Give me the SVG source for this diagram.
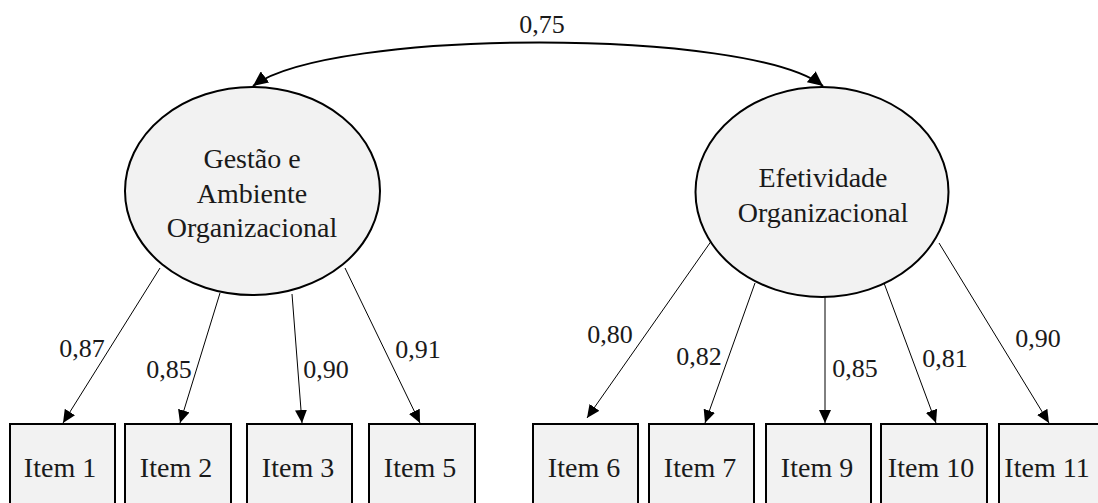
<svg xmlns="http://www.w3.org/2000/svg" width="1098" height="503" viewBox="0 0 1098 503">
<style>
.lat{fill:#f2f2f2;stroke:#000;stroke-width:2}
.box{fill:#f2f2f2;stroke:#000;stroke-width:2}
.t{font-family:'Liberation Serif','Times New Roman','DejaVu Serif',serif;font-size:28px;fill:#1a1a1a;text-anchor:middle}
.l{font-family:'Liberation Serif','Times New Roman','DejaVu Serif',serif;font-size:26px;fill:#1a1a1a;text-anchor:middle}
.c{stroke:#000;stroke-width:1;fill:none;marker-end:url(#ah)}
</style>
<defs>
<marker id="ah" markerUnits="userSpaceOnUse" markerWidth="14" markerHeight="12" refX="13" refY="6" orient="auto">
<path d="M0,0 L13,6 L0,12 Z" fill="#000"/>
</marker>
<marker id="ah2" markerUnits="userSpaceOnUse" markerWidth="16" markerHeight="14" refX="15" refY="7" orient="auto">
<path d="M0,0 L15,7 L0,14 Z" fill="#000"/>
</marker>
<marker id="ah2s" markerUnits="userSpaceOnUse" markerWidth="16" markerHeight="14" refX="15" refY="7" orient="auto-start-reverse">
<path d="M0,0 L15,7 L0,14 Z" fill="#000"/>
</marker>
</defs>
<g id="connectors">
<path d="M253,86 C330,28 750,28 823,86" fill="none" stroke="#000" stroke-width="2" marker-start="url(#ah2s)" marker-end="url(#ah2)"/>
<line class="c" x1="160" y1="268" x2="63" y2="423"/>
<line class="c" x1="220" y1="293" x2="180" y2="423"/>
<line class="c" x1="292" y1="294" x2="302" y2="423"/>
<line class="c" x1="345" y1="268" x2="420" y2="423"/>
<line class="c" x1="712" y1="240" x2="587" y2="418"/>
<line class="c" x1="755" y1="283" x2="705" y2="423"/>
<line class="c" x1="825" y1="297" x2="825" y2="423"/>
<line class="c" x1="884" y1="283" x2="936" y2="423"/>
<line class="c" x1="939" y1="243" x2="1049" y2="423"/>
<text class="l" x="542" y="33">0,75</text>
<text class="l" x="82" y="357">0,87</text>
<text class="l" x="169" y="378">0,85</text>
<text class="l" x="326" y="378">0,90</text>
<text class="l" x="418" y="358">0,91</text>
<text class="l" x="610" y="343">0,80</text>
<text class="l" x="699" y="365">0,82</text>
<text class="l" x="855" y="377">0,85</text>
<text class="l" x="945" y="367">0,81</text>
<text class="l" x="1038" y="347">0,90</text>
</g>
<g id="gestao">
<ellipse class="lat" cx="252.5" cy="191" rx="127.5" ry="104"/>
<text class="t" x="252" y="168">Gestão e</text>
<text class="t" x="252" y="203">Ambiente</text>
<text class="t" x="252" y="237">Organizacional</text>
</g>
<g id="efetividade">
<ellipse class="lat" cx="822" cy="192" rx="126.5" ry="105"/>
<text class="t" x="823" y="187">Efetividade</text>
<text class="t" x="823" y="222">Organizacional</text>
</g>
<g id="item1"><rect class="box" x="10" y="424" width="105" height="90"/><text class="t" x="60" y="477">Item 1</text></g>
<g id="item2"><rect class="box" x="125" y="424" width="106" height="90"/><text class="t" x="176" y="477">Item 2</text></g>
<g id="item3"><rect class="box" x="247" y="424" width="105" height="90"/><text class="t" x="298" y="477">Item 3</text></g>
<g id="item5"><rect class="box" x="369" y="424" width="106" height="90"/><text class="t" x="420" y="477">Item 5</text></g>
<g id="item6"><rect class="box" x="533" y="424" width="105" height="90"/><text class="t" x="584" y="477">Item 6</text></g>
<g id="item7"><rect class="box" x="649" y="424" width="105" height="90"/><text class="t" x="700" y="477">Item 7</text></g>
<g id="item9"><rect class="box" x="766" y="424" width="105" height="90"/><text class="t" x="817" y="477">Item 9</text></g>
<g id="item10"><rect class="box" x="881" y="424" width="106" height="90"/><text class="t" x="931" y="477">Item 10</text></g>
<g id="item11"><rect class="box" x="999" y="424" width="106" height="90"/><text class="t" x="1047" y="477">Item 11</text></g>
</svg>
